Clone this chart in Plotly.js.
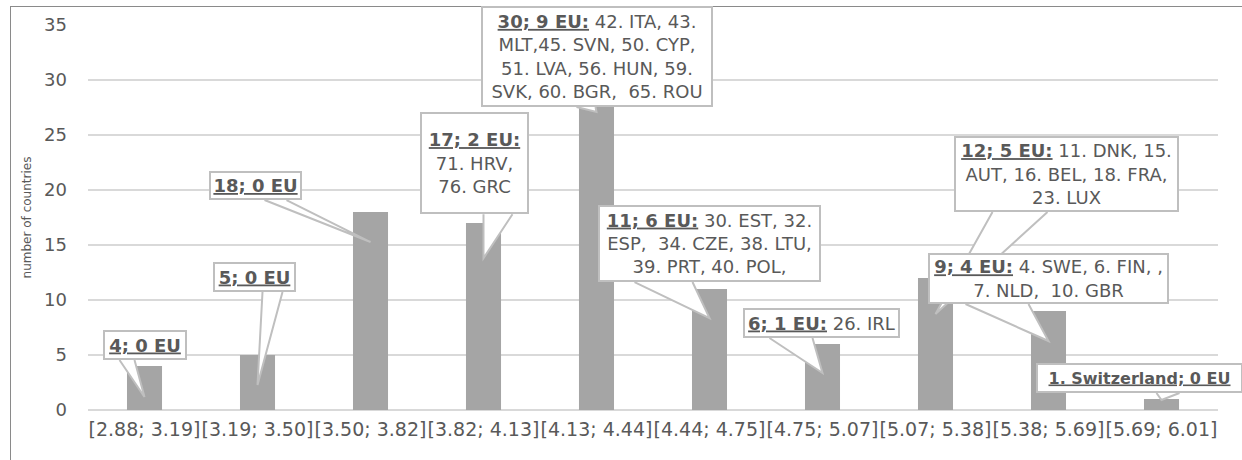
<!DOCTYPE html>
<html>
<head>
<meta charset="utf-8">
<script src="https://cdn.plot.ly/plotly-3.0.1.min.js"></script>
<style>
  html, body { margin: 0; padding: 0; background: #ffffff; }
  #wrap { position: relative; width: 1242px; height: 460px; overflow: hidden; }
  #frame { position: absolute; left: 10px; top: 6px; width: 1300px; height: 600px;
           border-left: 1px solid #8a8a8a; border-top: 1px solid #8a8a8a; }
  #chart { position: absolute; left: 0; top: 0; width: 1242px; height: 460px; }
</style>
</head>
<body>
<div id="wrap">
  <div id="frame"></div>
  <div id="chart"></div>
</div>
<script>
// ---- data ----
var categories = ["[2.88; 3.19]", "[3.19; 3.50]", "[3.50; 3.82]", "[3.82; 4.13]", "[4.13; 4.44]",
                  "[4.44; 4.75]", "[4.75; 5.07]", "[5.07; 5.38]", "[5.38; 5.69]", "[5.69; 6.01]"];
var countryCounts = [4, 5, 18, 17, 30, 11, 6, 12, 9, 1];
var calloutHeads = ["4; 0 EU", "5; 0 EU", "18; 0 EU", "17; 2 EU:", "30; 9 EU:",
                    "11; 6 EU:", "6; 1 EU:", "12; 5 EU:", "9; 4 EU:", "1. Switzerland; 0 EU"];
var calloutBodies = [
  "", "", "",
  "<br>71. HRV,<br>76. GRC",
  " 42. ITA, 43.<br>MLT,45. SVN, 50. CYP,<br>51. LVA, 56. HUN, 59.<br>SVK, 60. BGR,  65. ROU",
  " 30. EST, 32.<br>ESP,  34. CZE, 38. LTU,<br>39. PRT, 40. POL,",
  " 26. IRL",
  " 11. DNK, 15.<br>AUT, 16. BEL, 18. FRA,<br>23. LUX",
  " 4. SWE, 6. FIN, ,<br>7. NLD,  10. GBR",
  ""
];
var yTickValues = [0, 5, 10, 15, 20, 25, 30, 35];

// ---- callout placement (layout/styling only) ----
// tip: data y where the pointer ends; ax/ay: box centre offset from tip (px);
// w/h: outer box size (px); base: pointer base [left dx, right dx, dy] relative to tip (px, dy down-positive)
var calloutLayout = [
  {tip: 1.18,  ax: 0,     ay: -52,   w: 84,  h: 30,  base: [-25, -10, -37],  fs: 18},
  {tip: 2.27,  ax: -3,    ay: -108,  w: 83,  h: 30,  base: [5, 25, -93],     fs: 18},
  {tip: 15.27, ax: -115,  ay: -56.5, w: 93,  h: 29,  base: [-106, -84, -42], fs: 18},
  {tip: 13.8,  ax: -9,    ay: -95,   w: 109, h: 102, base: [0, 29, -44],     fs: 18},
  {tip: 27.09, ax: 0.5,   ay: -55.5, w: 232, h: 101, base: [-20, -1, -5],    fs: 18},
  {tip: 8.36,  ax: 0,     ay: -74.5, w: 223, h: 77,  base: [-75, -17, -36],  fs: 18},
  {tip: 3.36,  ax: -1,    ay: -50,   w: 157, h: 30,  base: [-53, -10, -35],  fs: 18},
  {tip: 8.73,  ax: 131,   ay: -140,  w: 225, h: 76,  base: [57, 112, -102],  fs: 18},
  {tip: 6.27,  ax: 0,     ay: -62.5, w: 241, h: 51,  base: [-83, -20, -37],  fs: 18},
  {tip: 0.91,  ax: -22,   ay: -22,   w: 207, h: 30,  base: [-5, 18, -7],     fs: 16}
];

var textColor = "#595959";
var boxLine = "#bfbfbf";
var fontFamily = "DejaVu Sans, sans-serif";
var bw = 2, bpad = 1;

var annotations = categories.map(function (c, i) {
  var L = calloutLayout[i];
  return {
    x: i, y: L.tip, xref: "x", yref: "y",
    ax: L.ax, ay: L.ay, axref: "pixel", ayref: "pixel",
    showarrow: true, arrowhead: 0, arrowwidth: 0.1, arrowcolor: "rgba(0,0,0,0)",
    text: "<b><u>" + calloutHeads[i] + "</u></b>" + calloutBodies[i],
    align: "center", valign: "middle",
    width: L.w - 2 * (bw + bpad), height: L.h - 2 * (bw + bpad),
    font: {family: fontFamily, size: L.fs, color: textColor},
    bgcolor: "#ffffff", bordercolor: boxLine, borderwidth: bw, borderpad: bpad
  };
});

// callout pointers (wedges) anchored at the tip in data space, sized in pixels
var shapes = categories.map(function (c, i) {
  var L = calloutLayout[i];
  var b = L.base;
  var up = -b[2];
  return {
    type: "path", layer: "above",
    xref: "x", yref: "y", xsizemode: "pixel", ysizemode: "pixel",
    xanchor: i, yanchor: L.tip,
    path: "M " + b[0] + "," + up + " L 0,0 L " + b[1] + "," + up,
    fillcolor: "#ffffff",
    line: {color: boxLine, width: 2}
  };
});

var trace = {
  type: "bar",
  x: categories,
  y: countryCounts,
  marker: {color: "#a5a5a5"},
  hoverinfo: "x+y"
};

var layout = {
  width: 1242, height: 460,
  margin: {l: 88, r: 24, t: 25, b: 50, pad: 0},
  paper_bgcolor: "rgba(0,0,0,0)",
  plot_bgcolor: "rgba(0,0,0,0)",
  showlegend: false,
  bargap: 0.69,
  font: {family: fontFamily, color: textColor},
  xaxis: {
    type: "category",
    range: [-0.5, categories.length - 0.5],
    autorange: false,
    tickangle: 0,
    ticks: "",
    showgrid: false,
    showline: false,
    zeroline: false,
    tickfont: {family: fontFamily, size: 19, color: textColor},
    ticklabelstandoff: 6,
    automargin: false
  },
  yaxis: {
    range: [0, 35],
    autorange: false,
    tickvals: yTickValues,
    ticks: "",
    showline: false,
    showgrid: true,
    gridcolor: "#d9d9d9",
    gridwidth: 2,
    zeroline: true,
    zerolinecolor: "#d9d9d9",
    zerolinewidth: 2,
    tickfont: {family: fontFamily, size: 18, color: textColor},
    ticklabelstandoff: 20,
    automargin: false,
    title: {text: "number of countries", font: {family: fontFamily, size: 12, color: textColor}, standoff: 9}
  },
  shapes: shapes,
  annotations: annotations
};

Plotly.newPlot("chart", [trace], layout, {displayModeBar: false, staticPlot: true});
</script>
</body>
</html>
